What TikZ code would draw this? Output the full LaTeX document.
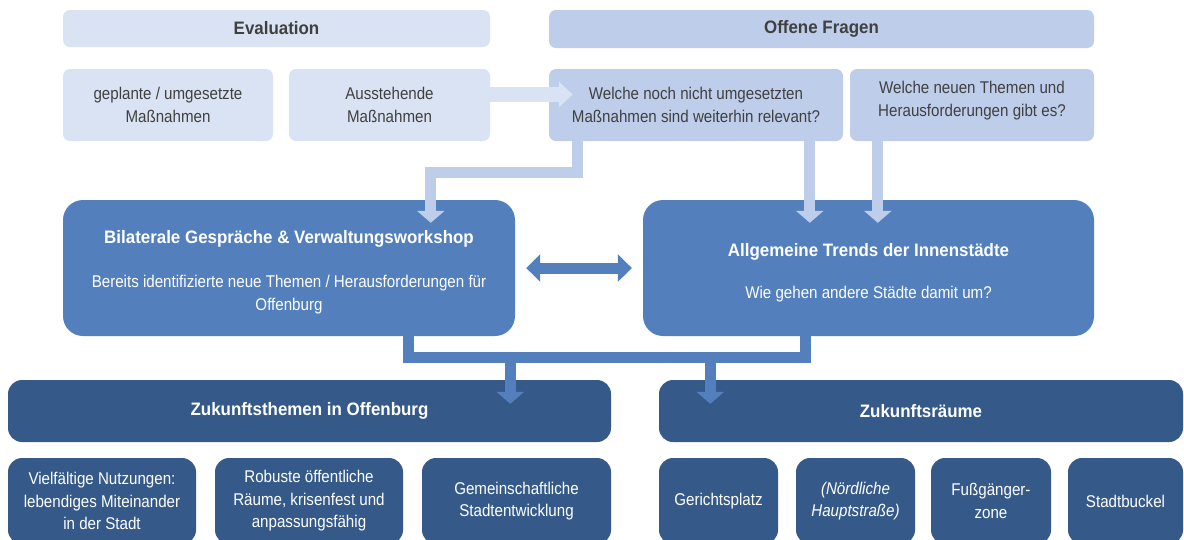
\documentclass[tikz,border=0pt]{standalone}
\usepackage{fontspec}
\setmainfont{Liberation Sans}[FakeStretch=0.89]
\newfontfamily\hdfont{Liberation Sans}[FakeStretch=0.94]
\usetikzlibrary{arrows.meta}

\definecolor{evalblue}{HTML}{DAE3F3}
\definecolor{fragblue}{HTML}{BDCDEA}
\definecolor{midblue}{HTML}{5380BD}
\definecolor{deepblue}{HTML}{355A89}
\definecolor{txtgray}{HTML}{404040}

\newcommand{\txt}{\fontsize{17}{22.5}\selectfont}
\newcommand{\hd}{\hdfont\bfseries\fontsize{18}{22.5}\selectfont}

\tikzset{
  box/.style={inner sep=0pt, align=center, font=\txt},
  evalbox/.style={box, rounded corners=7pt, fill=evalblue, text=txtgray},
  fragbox/.style={box, rounded corners=7pt, fill=fragblue, text=txtgray},
  midbox/.style={box, rounded corners=20pt, fill=midblue, text=white, minimum height=136pt},
  zukbox/.style={box, rounded corners=14pt, fill=deepblue, text=white},
  lightarr/.style={draw=fragblue, line width=11pt, -{Triangle[width=27pt,length=12pt]}},
  midarr/.style={draw=midblue, line width=11pt, -{Triangle[width=27pt,length=12pt]}},
}

\begin{document}
\begin{tikzpicture}[x=1pt,y=-1pt,line join=miter]
    \useasboundingbox (0,0) rectangle (1184,539);
    \clip (0,0) rectangle (1184,539);

    % top row
    \node[evalbox, minimum width=427pt, minimum height=37pt, font=\hd] (eval) at (276.5,28.5) {Evaluation};
    \node[fragbox, minimum width=545pt, minimum height=38pt, font=\hd] (fragen) at (821.5,29) {Offene Fragen};
    \node[evalbox, minimum width=210pt, minimum height=72pt] (geplant) at (168,105) {geplante / umgesetzte\\Maßnahmen};
    \node[evalbox, minimum width=201pt, minimum height=72pt] (ausst) at (389.5,105) {Ausstehende\\Maßnahmen};
    \node[fragbox, minimum width=294pt, minimum height=72pt] (relevant) at (696,105) {Welche noch nicht umgesetzten\\Maßnahmen sind weiterhin relevant?};
    \node[fragbox, minimum width=244pt, minimum height=72pt] (neu) at (972,105) {Welche neuen Themen und\\Herausforderungen gibt es?\\[-10pt]};

    % middle row
    \node[midbox, minimum width=452pt] (bilat) at (289,268)
      {\rule{0pt}{21pt}{\hd Bilaterale Gespräche \& Verwaltungsworkshop}\\[22pt]Bereits identifizierte neue Themen / Herausforderungen für\\Offenburg};
    \node[midbox, minimum width=451pt] (allg) at (868.5,268)
      {\rule{0pt}{23pt}{\hd Allgemeine Trends der Innenstädte}\\[20pt]Wie gehen andere Städte damit um?};

    % bottom
    \node[zukbox, minimum width=603pt, minimum height=62pt, font=\hd] (themen) at (309.5,411) {Zukunftsthemen in Offenburg};
    \node[zukbox, minimum width=524pt, minimum height=62pt, font=\hd] (raeume) at (921,411) {Zukunftsräume};

    \node[zukbox, minimum width=188pt, minimum height=86pt] (vielf) at (102,501) {Vielfältige Nutzungen:\\lebendiges Miteinander\\in der Stadt};
    \node[zukbox, minimum width=188pt, minimum height=86pt] (robust) at (309,501) {Robuste öffentliche\\Räume, krisenfest und\\anpassungsfähig};
    \node[zukbox, minimum width=189pt, minimum height=86pt] (gemein) at (516.5,501) {Gemeinschaftliche\\Stadtentwicklung};
    \node[zukbox, minimum width=119pt, minimum height=86pt] (gericht) at (718.5,501) {Gerichtsplatz};
    \node[zukbox, minimum width=119pt, minimum height=86pt, font=\txt\itshape] (noerd) at (855.5,501) {(Nördliche\\Hauptstraße)};
    \node[zukbox, minimum width=120pt, minimum height=86pt] (fuss) at (991,501) {Fußgänger-\\zone};
    \node[zukbox, minimum width=115pt, minimum height=86pt] (stadtb) at (1125.5,501) {Stadtbuckel};

    % arrows
    \draw[draw=evalblue, line width=15pt, -{Triangle[width=25pt,length=14pt]}]
      ([yshift=10.5pt]ausst.east) -- ([xshift=24pt,yshift=10.5pt]relevant.west);
    \draw[lightarr] ([xshift=28.5pt]relevant.south west) -- ++(0,31.5)
      -| ([xshift=368pt,yshift=-23pt]bilat.north west);
    \coordinate (in1) at ([xshift=167pt,yshift=-23pt]allg.north west);
    \coordinate (in2) at ([xshift=235pt,yshift=-23pt]allg.north west);
    \draw[lightarr] (in1 |- relevant.south) -- (in1);
    \draw[lightarr] (in2 |- neu.south) -- (in2);

    \draw[midarr, {Triangle[width=27pt,length=14pt]}-{Triangle[width=27pt,length=14pt]}]
      ([xshift=11pt]bilat.east) -- ([xshift=-11pt]allg.west);

    \draw[draw=midblue, line width=11pt] ([xshift=346pt]bilat.south west) -- ++(0,21.5)
      -| ([xshift=163pt]allg.south west);
    \coordinate (bar) at ([yshift=-21.5pt]bilat.south);
    \coordinate (out1) at ([xshift=502.5pt,yshift=-24pt]themen.north west);
    \coordinate (out2) at ([xshift=51.5pt,yshift=-24pt]raeume.north west);
    \draw[midarr] (out1 |- bar) -- (out1);
    \draw[midarr] (out2 |- bar) -- (out2);
  \end{tikzpicture}
\end{document}
